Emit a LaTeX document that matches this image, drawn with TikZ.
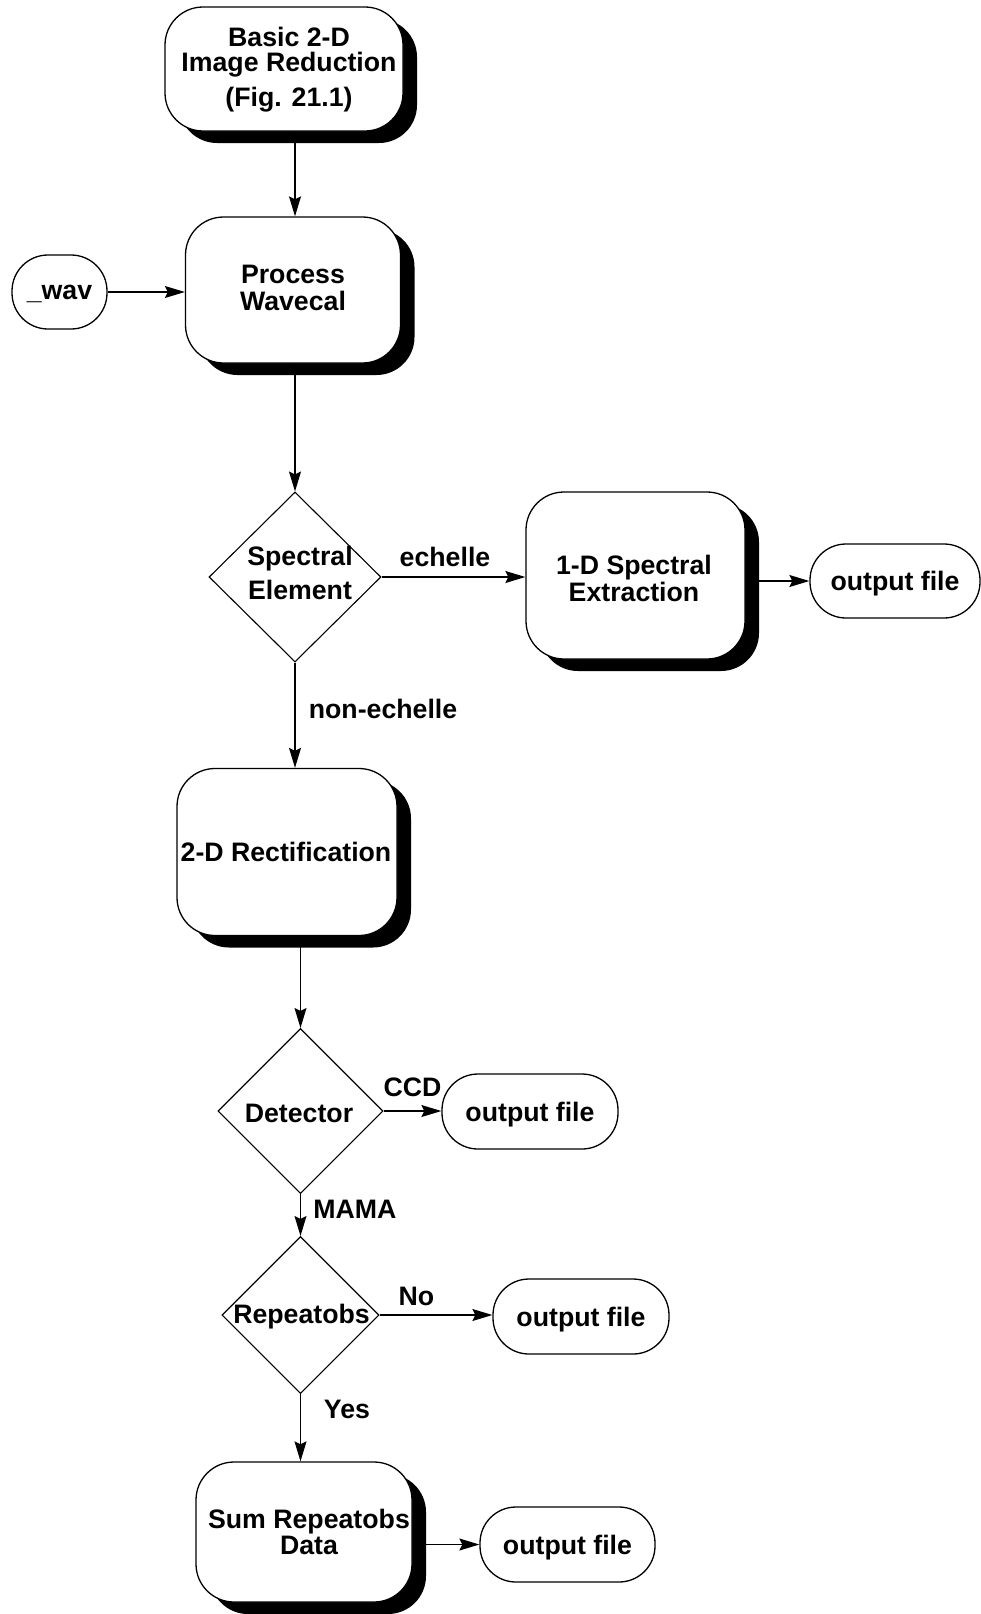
\documentclass[tikz,border=0pt]{standalone}
\usepackage{fontspec}
\setmainfont{Liberation Sans}
\usetikzlibrary{shapes.geometric,shadows,arrows.meta}

\begin{document}
\begin{tikzpicture}[x=1pt,y=-1pt,
  txt/.style={font=\bfseries\fontsize{26.7}{27}\selectfont, align=center, inner sep=0pt},
  procbox/.style={draw, line width=1.3pt, fill=white, rounded corners=38pt,
    inner sep=0pt,
    drop shadow={shadow xshift=14pt, shadow yshift=-12pt, fill=black, opacity=1}},
  termbox/.style={draw, line width=1.3pt, fill=white, rounded corners=36pt,
    inner sep=0pt, minimum width=176pt, minimum height=75pt, text depth=0pt,
    font=\bfseries\fontsize{26.7}{27}\selectfont},
  decision/.style={draw, line width=1.1pt, fill=white, shape=diamond, inner sep=0pt},
  arr/.style={line width=1.2pt, -{Stealth[length=20pt,width=12pt,inset=3pt]}},
  lbl/.style={font=\bfseries\fontsize{26.7}{27}\selectfont, inner sep=0pt}
]
\useasboundingbox (0,0) rectangle (981,1614);

% process boxes
\node[procbox, minimum width=238pt, minimum height=124pt] (basic) at (284,69) {};
\node[txt] (basictxt) at (289,70) {Basic 2-D\\[-2pt]Image Reduction\\[8pt](Fig. 21.1)};

\node[procbox, minimum width=215pt, minimum height=146pt] (wavecal) at (293,290) {};
\node[txt] (wavecaltxt) at (293,288) {Process\\Wavecal};

\node[termbox, minimum width=95pt, minimum height=74pt] (wav) at (59.5,292) {\_wav};

% spectral element decision
\node[decision, minimum width=172pt, minimum height=170pt] (spec) at (295,577) {};
\node[txt] (spectxt) at (300,573) {Spectral\\[7pt]Element};

\node[procbox, minimum width=219pt, minimum height=167pt] (onedee) at (635.5,575.5) {};
\node[txt] (onedeetxt) at (634,578) {1-D Spectral\\Extraction};

\node[termbox, minimum width=170pt, minimum height=74pt] (out1) at (895,581) {output file};

\node[procbox, minimum width=220pt, minimum height=167pt] (rect) at (287,852) {};
\node[txt] (recttxt) at (286,852) {2-D Rectification};

% detector decision
\node[decision, minimum width=165pt, minimum height=165pt] (det) at (300.5,1111) {};
\node[txt] (dettxt) at (299,1113) {Detector};
\node[termbox] (out2) at (530,1111.5) {output file};

% repeatobs decision
\node[decision, minimum width=157pt, minimum height=157pt] (rep) at (300.5,1315) {};
\node[txt] (reptxt) at (301.5,1316.5) {Repeatobs};
\node[termbox] (out3) at (581,1316.5) {output file};

\node[procbox, minimum width=216pt, minimum height=140pt] (sum) at (304,1532) {};
\node[txt] (sumtxt) at (309,1532) {Sum Repeatobs\\[-1.5pt]Data};
\node[termbox, minimum width=175pt] (out4) at (567.5,1544.5) {output file};

% connectors
\draw[arr] (basic.south -| spec.north) -- (wavecal.north -| spec.north);
\draw[arr] (wav.east) -- (wavecal.west |- wav.east);
\draw[arr] (wavecal.south -| spec.north) -- (spec.north);
\draw[arr] (spec.east) -- (onedee.west |- spec.east);
\draw[arr] (onedee.east |- out1.west) -- (out1.west);
\draw[arr] (spec.south) -- (rect.north -| spec.south);
\draw[arr] (rect.south -| det.north) -- (det.north);
\draw[arr] (det.east) -- (out2.west |- det.east);
\draw[arr] (det.south) -- (rep.north);
\draw[arr] (rep.east) -- (out3.west |- rep.east);
\draw[arr] (rep.south) -- (sum.north -| rep.south);
\draw[arr] (sum.east |- out4.west) -- (out4.west);

% branch labels
\node[lbl] (lecho) at (445,557) {echelle};
\node[lbl] (lnon) at (383,709) {non-echelle};
\node[lbl] (lccd) at (412.5,1087.5) {CCD};
\node[lbl] (lmama) at (355,1209) {MAMA};
\node[lbl] (lno) at (416.5,1296) {No};
\node[lbl] (lyes) at (347,1409) {Yes};
\end{tikzpicture}
\end{document}
